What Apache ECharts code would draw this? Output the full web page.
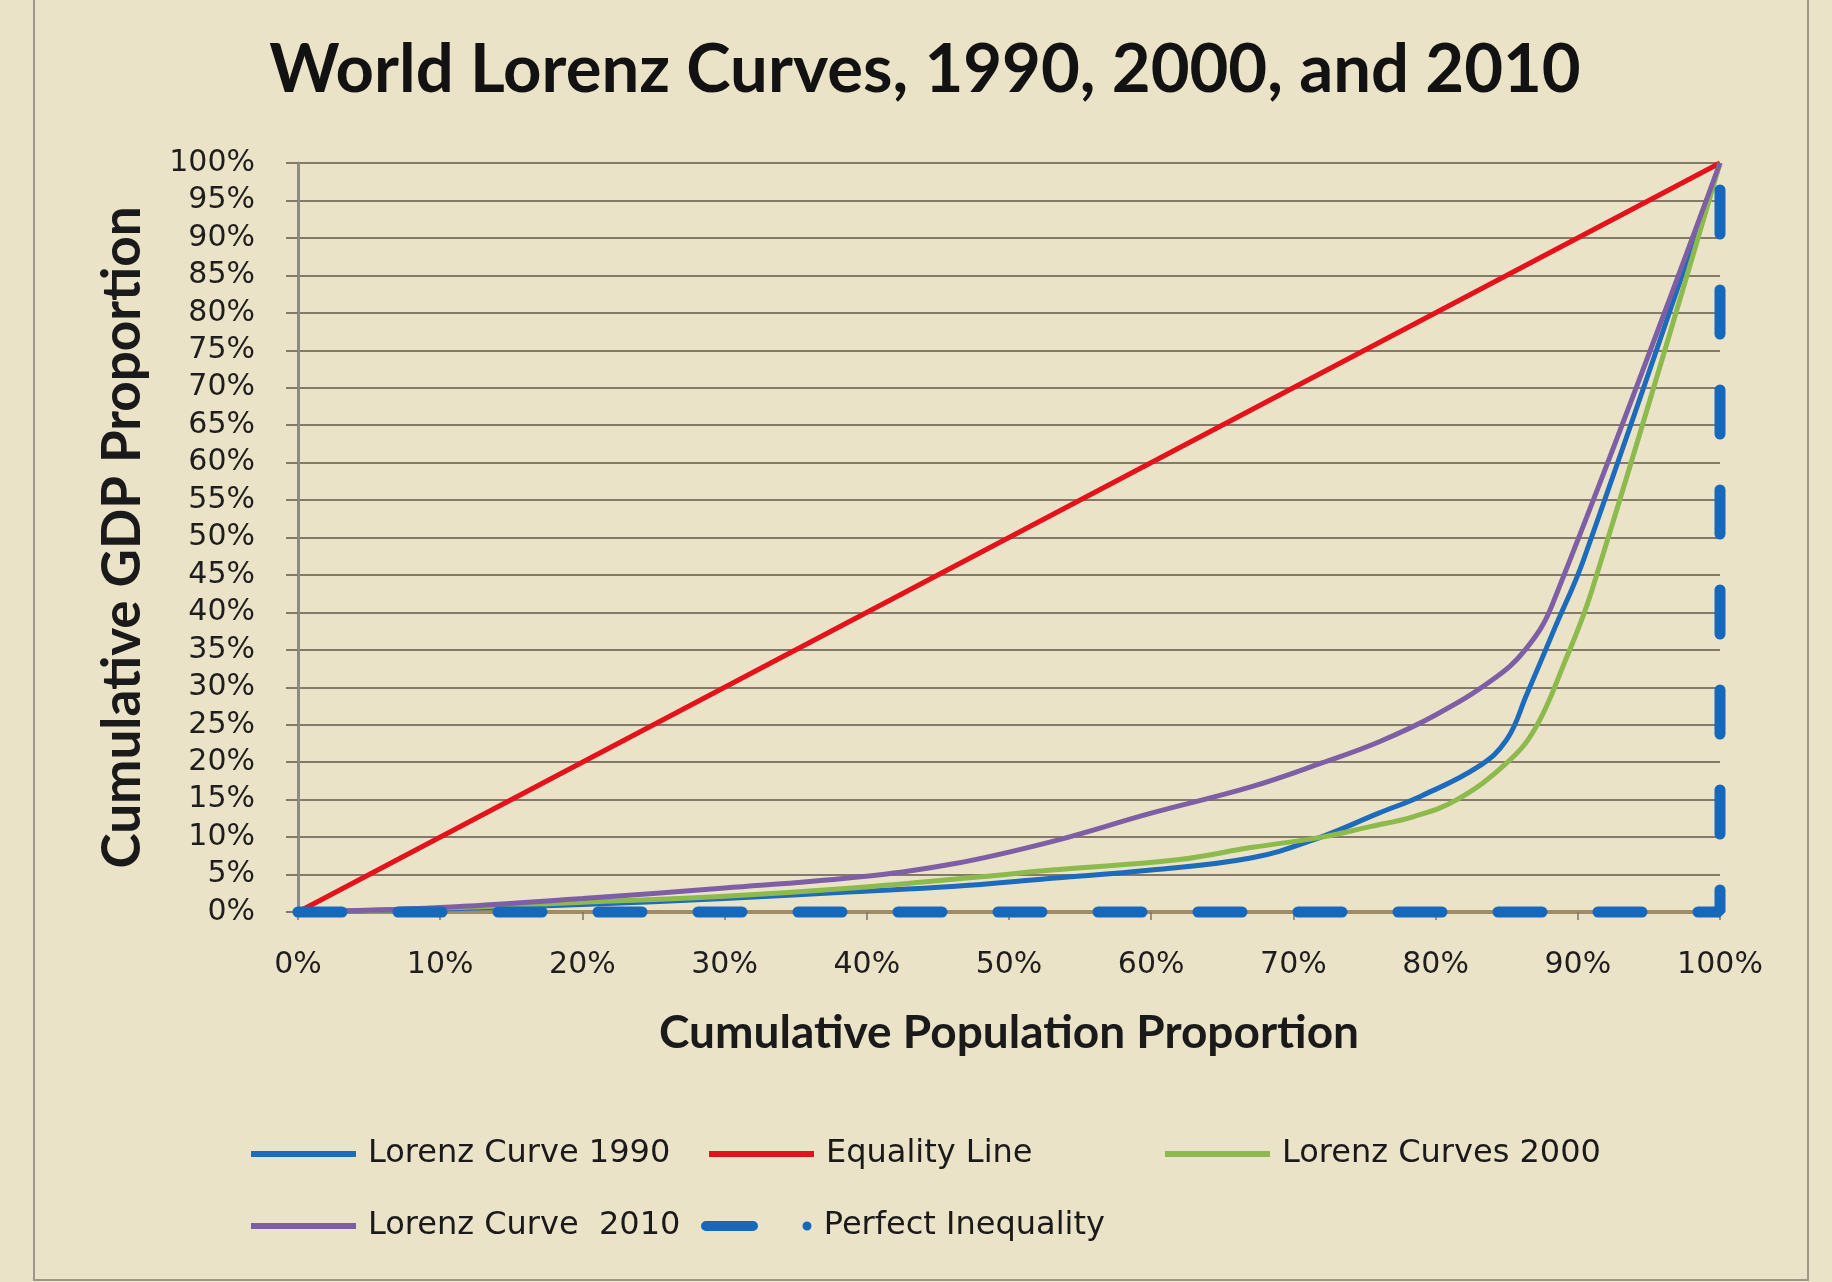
<!DOCTYPE html>
<html>
<head>
<meta charset="utf-8">
<title>World Lorenz Curves</title>
<script src="https://cdn.jsdelivr.net/npm/echarts@6/dist/echarts.min.js"></script>
<style>
  html, body { margin: 0; padding: 0; background: #ebe3c7; }
  #chart { width: 1832px; height: 1282px; }
</style>
</head>
<body>
<div id="chart"></div>
<script>
// Cumulative population share (%) and cumulative GDP share (%) for each year
const popShare1990 = [0, 10, 20, 30, 39, 46, 53, 60, 67, 71.5, 76, 79, 83, 85, 86.4, 88.4, 90.4, 100];
const gdpShare1990 = [0, 0.4, 1.0, 1.8, 2.7, 3.4, 4.5, 5.6, 7.2, 9.7, 13.2, 15.5, 19.4, 23, 29, 38, 47, 100];

const popShare2000 = [0, 10, 20, 30, 39, 48, 53, 62, 67, 72, 75.4, 78.4, 81.5, 85, 87, 89, 91, 100];
const gdpShare2000 = [0, 0.5, 1.3, 2.1, 3.2, 4.7, 5.6, 7.0, 8.6, 10, 11.4, 12.7, 15, 19.9, 24.5, 33, 43, 100];

const popShare2010 = [0, 10, 20, 30, 39, 46, 53, 60, 67, 72, 76, 80, 84, 86.3, 88.2, 100];
const gdpShare2010 = [0, 0.6, 1.8, 3.2, 4.6, 6.4, 9.4, 13.2, 16.7, 19.9, 22.7, 26.3, 31, 35, 41, 100];

const popEquality = [0, 100];
const gdpEquality = [0, 100];

const popPerfectInequality = [0, 100, 100];
const gdpPerfectInequality = [0, 0, 100];

const seriesNames = ['Lorenz Curve 1990', 'Equality Line', 'Lorenz Curves 2000', 'Lorenz Curve  2010', 'Perfect Inequality'];

function zip(xs, ys) {
  return xs.map((x, i) => [x, ys[i]]);
}

const chart = echarts.init(document.getElementById('chart'), null, { renderer: 'canvas' });

const tickFont = { fontFamily: 'DejaVu Sans', fontSize: 30, color: '#1e1e1e' };
const legendText = { fontFamily: 'DejaVu Sans', fontSize: 32, color: '#1a1a1a', padding: [0, 0, 0, 7] };
const gridColor = '#837a69';

const lineIcon = 'rect';
// dash followed by a dot, as in the dashed-line key
const dashDotIcon = 'path://M5,0 H52 A5,5 0 0 1 52,10 H5 A5,5 0 0 1 5,0 Z M106,0.5 A4.5,4.5 0 1 1 106,9.5 A4.5,4.5 0 1 1 106,0.5 Z';

function legendAt(name, left, top, icon, w, h) {
  return {
    data: [{ name: name, icon: icon }],
    left: left, top: top,
    orient: 'horizontal',
    padding: 0,
    itemWidth: w,
    itemHeight: h,
    selectedMode: false,
    textStyle: legendText
  };
}

const option = {
  backgroundColor: '#ebe3c7',
  animation: false,
  title: {
    text: 'World Lorenz Curves, 1990, 2000, and 2010',
    left: 920,
    top: 32,
    textAlign: 'center',
    textStyle: { fontFamily: 'Lato', fontWeight: 'bold', fontSize: 67, color: '#121212' }
  },
  legend: [
    legendAt(seriesNames[0], 251, 1138, lineIcon, 105, 6),
    legendAt(seriesNames[1], 709, 1138, lineIcon, 105, 6),
    legendAt(seriesNames[2], 1165, 1138, lineIcon, 105, 6),
    legendAt(seriesNames[3], 251, 1210, lineIcon, 105, 6),
    legendAt(seriesNames[4], 701, 1210, dashDotIcon, 111, 10)
  ],
  graphic: [{
    type: 'rect',
    shape: { x: 34, y: -10, width: 1774, height: 1290 },
    style: { fill: 'none', stroke: '#9d978a', lineWidth: 2 },
    silent: true
  }],
  grid: { left: 298, right: 112, top: 163, bottom: 370 },
  xAxis: {
    type: 'value',
    min: 0, max: 100, interval: 10,
    name: 'Cumulative Population Proportion',
    nameLocation: 'middle',
    nameGap: 98,
    nameTextStyle: { fontFamily: 'Lato', fontWeight: 'bold', fontSize: 46, color: '#1a1a1a' },
    axisLine: { show: true, lineStyle: { color: '#a08a68', width: 4 } },
    axisTick: { show: true, length: 8, lineStyle: { color: '#7d7566', width: 1.5 } },
    axisLabel: Object.assign({ formatter: '{value}%', margin: 38 }, tickFont),
    splitLine: { show: false }
  },
  yAxis: {
    type: 'value',
    min: 0, max: 100, interval: 5,
    name: 'Cumulative GDP Proportion',
    nameLocation: 'middle',
    nameRotate: 90,
    nameGap: 149,
    nameTextStyle: { fontFamily: 'Lato', fontWeight: 'bold', fontSize: 53, color: '#1a1a1a' },
    axisLine: { show: true, lineStyle: { color: '#8c8a84', width: 3 } },
    axisTick: { show: true, length: 12, lineStyle: { color: gridColor, width: 2 } },
    axisLabel: Object.assign({ formatter: '{value}%', margin: 43 }, tickFont),
    splitLine: { show: true, lineStyle: { color: gridColor, width: 2 } }
  },
  series: [
    {
      name: seriesNames[0], type: 'line', data: zip(popShare1990, gdpShare1990),
      showSymbol: false, smooth: 0.4, clip: false,
      itemStyle: { color: '#1c6bbc' }, lineStyle: { color: '#1c6bbc', width: 5 }
    },
    {
      name: seriesNames[1], type: 'line', data: zip(popEquality, gdpEquality),
      showSymbol: false, clip: false,
      itemStyle: { color: '#e4131b' }, lineStyle: { color: '#e4131b', width: 5 }
    },
    {
      name: seriesNames[2], type: 'line', data: zip(popShare2000, gdpShare2000),
      showSymbol: false, smooth: 0.4, clip: false,
      itemStyle: { color: '#8dba4c' }, lineStyle: { color: '#8dba4c', width: 5 }
    },
    {
      name: seriesNames[3], type: 'line', data: zip(popShare2010, gdpShare2010),
      showSymbol: false, smooth: 0.4, clip: false,
      itemStyle: { color: '#7e5fa6' }, lineStyle: { color: '#7e5fa6', width: 5 }
    },
    {
      name: seriesNames[4], type: 'line', data: zip(popPerfectInequality, gdpPerfectInequality),
      showSymbol: false, clip: false,
      itemStyle: { color: '#1668bd' },
      lineStyle: { color: '#1668bd', width: 11, type: [44, 56], cap: 'round' }
    }
  ]
};

chart.setOption(option);
</script>
</body>
</html>
